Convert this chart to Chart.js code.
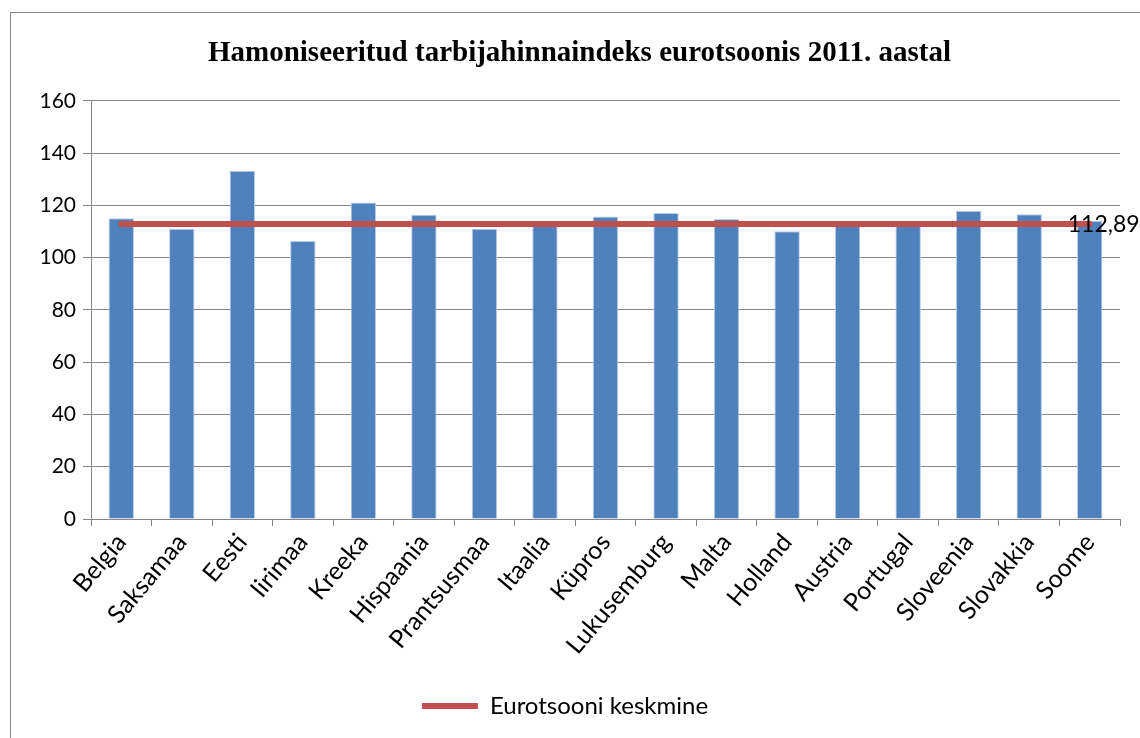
<!DOCTYPE html>
<html>
<head>
<meta charset="utf-8">
<script src="https://cdn.jsdelivr.net/npm/chart.js@4"></script>
<style>
  html, body { margin: 0; padding: 0; background: #fff; }
  #wrap { width: 1140px; height: 738px; }
</style>
</head>
<body>
<div id="wrap"><canvas id="hicpChart" width="1140" height="738"></canvas></div>
<script>
// data
const countries = ["Belgia", "Saksamaa", "Eesti", "Iirimaa", "Kreeka", "Hispaania", "Prantsusmaa",
  "Itaalia", "Küpros", "Lukusemburg", "Malta", "Holland", "Austria", "Portugal", "Sloveenia",
  "Slovakkia", "Soome"];
const indexValues = [115.1, 111.0, 133.2, 106.4, 121.1, 116.4, 111.0, 113.4, 115.7, 117.1,
  114.8, 110.1, 113.4, 113.5, 117.9, 116.6, 114.1];
const euroAverage = 112.89;
const averageLabel = "112,89";
const yTicks = [0, 20, 40, 60, 80, 100, 120, 140, 160];

const averageLine = countries.map(() => euroAverage);

// grey frame round the whole chart
const framePlugin = {
  id: "frame",
  beforeDraw(chart) {
    const c = chart.ctx;
    c.save();
    c.fillStyle = "#fff";
    c.fillRect(0, 0, chart.width, chart.height);
    c.strokeStyle = "#868686";
    c.lineWidth = 1;
    c.strokeRect(10.5, 12.5, 1300, 900);
    c.restore();
  }
};

// value label at the end of the average line
const avgLabelPlugin = {
  id: "avgLabel",
  afterDatasetsDraw(chart) {
    const meta = chart.getDatasetMeta(1);
    const last = meta.data[meta.data.length - 1];
    const c = chart.ctx;
    c.save();
    c.font = "23px Lato";
    c.fillStyle = "#000";
    c.textBaseline = "middle";
    c.textAlign = "left";
    c.fillText(averageLabel, last.x - 22, last.y + 1);
    c.restore();
  }
};

const ctx = document.getElementById("hicpChart").getContext("2d");
new Chart(ctx, {
  data: {
    labels: countries,
    datasets: [{
      type: "bar",
      label: "Indeks",
      data: indexValues,
      backgroundColor: "#4F81BD",
      borderColor: "#B9CDE5",
      borderWidth: 1,
      barPercentage: 0.42,
      categoryPercentage: 1,
      order: 1
    }, {
      type: "line",
      label: "Eurotsooni keskmine",
      data: averageLine,
      borderColor: "#C0504D",
      backgroundColor: "#C0504D",
      borderWidth: 6,
      borderCapStyle: "round",
      pointRadius: 0,
      pointStyle: "line",
      order: 0
    }]
  },
  options: {
    responsive: false,
    animation: false,
    layout: { padding: { left: 10, right: 20, top: 12, bottom: 10 } },
    plugins: {
      title: {
        display: true,
        // leading spaces nudge the centred title a little to the right, as in the original
        text: "    Hamoniseeritud tarbijahinnaindeks eurotsoonis 2011. aastal",
        color: "#000",
        font: { family: "Liberation Serif", size: 29, weight: "bold" },
        padding: { top: 24, bottom: 30 }
      },
      legend: {
        position: "bottom",
        labels: {
          filter: item => item.datasetIndex === 1,
          usePointStyle: true,
          pointStyleWidth: 56,
          color: "#000",
          font: { family: "Lato", size: 24 },
          padding: 10
        }
      },
      tooltip: { enabled: false }
    },
    scales: {
      x: {
        grid: { display: true, drawOnChartArea: false, drawTicks: true, tickLength: 7, color: "#868686", offset: true },
        border: { color: "#868686", width: 1 },
        ticks: {
          color: "#000",
          font: { family: "Lato", size: 25 },
          maxRotation: 50,
          minRotation: 50,
          autoSkip: false,
          padding: 2
        },
        afterFit(scale) { scale.height = 165; }
      },
      y: {
        min: 0,
        max: 160,
        afterBuildTicks(scale) { scale.ticks = yTicks.map(v => ({ value: v })); },
        grid: { color: "#868686", lineWidth: 1, tickLength: 8 },
        border: { color: "#868686", width: 1 },
        ticks: {
          color: "#000",
          font: { family: "Lato", size: 21 },
          padding: 7
        },
        afterFit(scale) { scale.width = 81; }
      }
    }
  },
  plugins: [framePlugin, avgLabelPlugin]
});
</script>
</body>
</html>
